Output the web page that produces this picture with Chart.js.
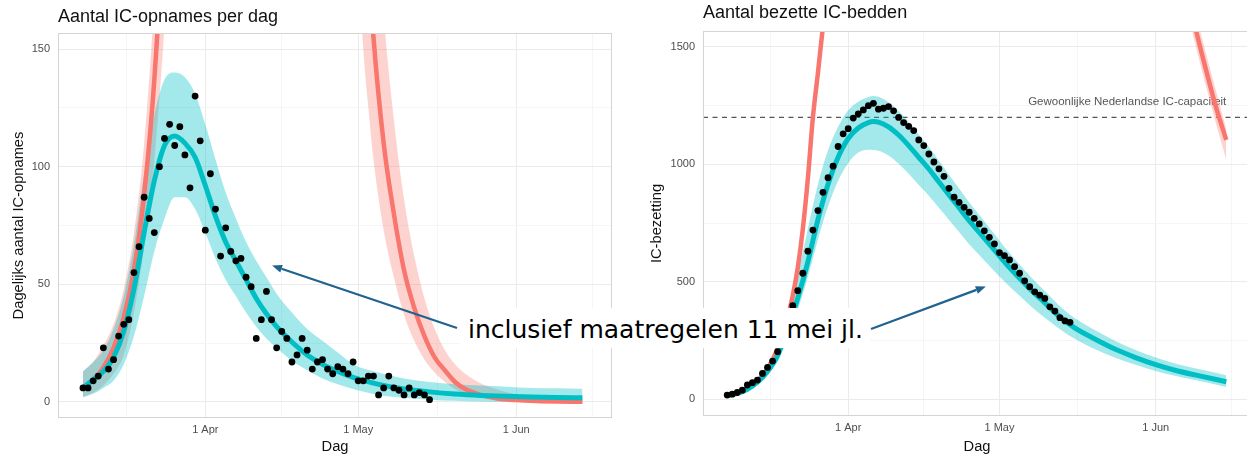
<!DOCTYPE html>
<html>
<head>
<meta charset="utf-8">
<script src="https://cdn.jsdelivr.net/npm/chart.js@4.4.1/dist/chart.umd.min.js"></script>
<style>
  body { margin: 0; width: 1247px; height: 457px; overflow: hidden; background: #fff; position: relative; }
  #opnames { position: absolute; left: 0; top: 0; }
  #bedden { position: absolute; left: 640px; top: 0; }
  #note {
    position: absolute; left: 460px; top: 308px; width: 410px; height: 40px;
    background: #fff; font-family: "DejaVu Sans", sans-serif; font-size: 25px;
    line-height: 44px; padding-left: 8px; box-sizing: border-box; white-space: nowrap; color: #000;
  }
  #arrows { position: absolute; left: 0; top: 0; }
</style>
</head>
<body>
<canvas id="opnames" width="620" height="457"></canvas>
<canvas id="bedden" width="615" height="457"></canvas>
<div id="note">inclusief maatregelen 11 mei jl.</div>
<svg id="arrows" width="1247" height="457"></svg>

<script>
// x = days since 1 March
const xTicks = [15.5, 31, 46, 61, 76.5, 92, 107];
const xLabels = ['', '1 Apr', '', '1 May', '', '1 Jun', ''];

// ---- left panel: IC admissions per day
const opnameDays = [7,8,9,10,11,12,13,14,15,16,17,18,19,20,21,22,23,24,25,26,27,28,29,30,31,32,33,34,35,36,
  37,38,39,40,41,42,43,44,45,46,47,48,49,50,51,52,53,54,55,56,57,58,59,60,61,62,63,64,65,66,67,68,69,70,71,72,73,74,75];
const opnames = [6,6,9,11,23,14,18,28,33,35,55,66,87,78,72,100,112,118,109,117,105,91,130,111,73,97,82,62,74,64,
  60,61,53,49,27,35,47,35,23,30,27,17,20,27,22,14,17,18,14,12,15,14,12,17,9,9,11,11,3,6,11,6,5,3,6,3,4,3,1];

const tealDaysL = [7,9,11,13,15,17,19,21,23,25,27,29,31,33,35,37,39,41,43,45,48,51,54,57,60,65,70,75,80,85,90,95,100,105];
const tealMidL = [6,9.5,13,19,30,48,72,94,109,113,110,104,92,79,68,60,52,44,37.5,32,25.5,20,16,13,10.5,7.5,5.5,4.3,3.4,2.8,2.4,2.1,1.9,1.8];
const tealHiL = [13,17,22,31,45,67,97,122,137,140,138,131,118,103,89,78,68,60,53,46,38,31,26,21,16,12.5,10,8.5,7.5,7,6.5,6,5.8,5.6];
const tealLoL = [2,3.5,6,9,16,28,45,64,78,87,87,82,72,61,52,45,38,32,27,23,17.5,13.5,10,7.5,5.5,3,1.8,1,0.5,0.2,0,0,0,0];

const redDaysL = [7,9,11,13,15,17,19,21,23,42,62,63,64,66,68,70,72,74,76,78,80,82,85,88,92,96,100,105];
const redMidL = [6,9.4,14.7,23,36,56,88,137,215,1500,225,188,155,110,80,56,40,28,19,13.5,8.5,5.5,3,1.6,0.8,0.4,0.2,0.1];
const redHiL = [13,17,24,33,48,72,110,172,270,2500,340,285,235,165,120,86,62,44,31,22,16,12,8,5.5,3.2,2,1.3,0.9];
const redLoL = [2,4,7,12,20,38,66,103,160,900,150,125,103,73,53,37,26,18,12.5,8.5,5.5,3.5,1.8,0.9,0.4,0.2,0.1,0.05];

// ---- right panel: occupied IC beds
const bezetDays = opnameDays;
const bezetting = [17,21,28,38,60,70,81,109,135,162,202,260,330,398,462,536,630,720,803,881,943,992,1076,1130,1152,1197,1215,1232,1250,1260,
  1235,1239,1246,1228,1200,1178,1162,1144,1104,1080,1044,1010,981,949,898,860,838,817,796,770,746,717,689,661,624,611,593,564,536,504,479,457,443,429,393,375,347,333,327];

const tealDaysR = [7,9,11,13,15,17,19,21,23,25,27,29,31,33,35,36,37,39,41,43,45,47,49,51,53,55,57,59,61,63,65,67,70,73,76,80,84,88,92,96,100,106];
const tealMidR = [15,24,42,72,118,185,300,430,585,765,915,1030,1110,1155,1178,1182,1180,1160,1125,1080,1030,980,925,870,815,760,710,660,610,560,515,470,410,350,302,255,212,177,147,122,102,74];
const tealHiR = [19,29,49,82,132,215,350,530,725,915,1060,1160,1230,1267,1287,1291,1288,1265,1227,1180,1127,1074,1015,956,897,838,784,730,676,622,573,525,460,396,344,293,247,209,177,151,130,102];
const tealLoR = [11,19,35,62,104,165,265,380,520,680,820,930,1005,1050,1062,1061,1058,1038,1003,960,912,866,815,763,712,660,614,568,522,480,440,400,346,298,256,212,176,146,120,98,80,52];

const redDaysR = [7,9,11,13,15,17,19,20,21,22,23,24,25,26,27,60,98,100,102,104,106];
const redMidR = [16,26,45,78,130,215,350,440,560,725,940,1200,1390,1590,1800,6000,1760,1570,1400,1240,1104];
const redHiR = [17,28,48,83,138,228,370,465,590,760,985,1250,1445,1650,1870,6500,1840,1640,1470,1310,1150];
const redLoR = [15,24,42,73,122,202,330,415,530,690,895,1150,1335,1530,1730,5500,1680,1500,1330,1170,1020];

const capacity = 1200;
const capacityText = 'Gewoonlijke Nederlandse IC-capaciteit';

const TEAL = '#00BFC4', RED = '#F8766D';
const TEAL_BAND = 'rgba(0,191,196,0.36)', RED_BAND = 'rgba(248,118,109,0.32)';

Chart.defaults.font.family = '"Liberation Sans", Arial, Helvetica, sans-serif';
Chart.defaults.color = '#4d4d4d';
Chart.defaults.animation = false;

function pts(days, vals) {
  return days.map((d, i) => ({x: d, y: vals[i]}));
}

function line(days, vals, color, width, order) {
  return {data: pts(days, vals), borderColor: color, borderWidth: width, pointRadius: 0,
    fill: false, cubicInterpolationMode: 'monotone', clip: 0, order: order};
}

function band(days, hi, lo, color, order) {
  return [
    {data: pts(days, hi), borderWidth: 0, pointRadius: 0, fill: '+1', backgroundColor: color,
      cubicInterpolationMode: 'monotone', clip: 0, order: order},
    {data: pts(days, lo), borderWidth: 0, pointRadius: 0, fill: false,
      cubicInterpolationMode: 'monotone', clip: 0, order: order}
  ];
}

function dots(days, vals) {
  return {data: pts(days, vals), showLine: false, pointRadius: 3.4, pointBorderWidth: 0,
    pointBackgroundColor: '#000', clip: 0, order: 0};
}

function gridColor(c) {
  return c.index % 2 === 1 ? '#ebebeb' : '#f5f5f5';
}

function xScale(min, max, h) {
  return {
    type: 'linear', min: min, max: max,
    afterBuildTicks: s => { s.ticks = xTicks.map(v => ({value: v})); },
    afterFit: s => { s.height = h; },
    ticks: {autoSkip: false, maxRotation: 0, padding: 5, font: {size: 11},
      callback: (v, i) => xLabels[i]},
    grid: {drawTicks: false, color: gridColor},
    border: {display: false},
    title: {display: true, text: 'Dag', color: '#111', font: {size: 14.7}, padding: {top: 0, bottom: 1}}
  };
}

function yScale(min, max, step, w, text, titlePad) {
  const ticks = [];
  for (let v = 0; v <= max; v += step / 2) ticks.push(v);
  return {
    min: min, max: max,
    afterBuildTicks: s => { s.ticks = ticks.map(v => ({value: v})); },
    afterFit: s => { s.width = w; },
    ticks: {autoSkip: false, padding: 8, font: {size: 11},
      callback: v => (v % step === 0 ? v : '')},
    grid: {drawTicks: false, color: c => (c.index % 2 === 0 ? '#ebebeb' : '#f5f5f5')},
    border: {display: false},
    title: {display: true, text: text, color: '#111', font: {size: 14.7}, padding: {top: titlePad, bottom: 0}}
  };
}

const panelBorder = {
  id: 'panelBorder',
  afterDatasetsDraw(chart) {
    const a = chart.chartArea, ctx = chart.ctx;
    ctx.save();
    ctx.strokeStyle = '#d4d4d4';
    ctx.lineWidth = 1;
    ctx.strokeRect(Math.round(a.left) + 0.5, Math.round(a.top) + 0.5,
      Math.round(a.right - a.left) - 1, Math.round(a.bottom - a.top) - 1);
    ctx.restore();
  }
};

const capacityLabel = {
  id: 'capacityLabel',
  beforeDatasetsDraw(chart) {
    const ctx = chart.ctx;
    const x = chart.scales.x.getPixelForValue(106);
    const y = chart.scales.y.getPixelForValue(capacity);
    ctx.save();
    ctx.font = '11.5px "Liberation Sans", Arial, sans-serif';
    ctx.fillStyle = '#555';
    ctx.textAlign = 'right';
    ctx.textBaseline = 'alphabetic';
    ctx.fillText(capacityText, x, y - 12);
    ctx.restore();
  }
};

function titleOpts(text, top, bottom) {
  return {display: true, text: text, align: 'start', fullSize: false, color: '#111',
    font: {size: 18, weight: 'normal'}, padding: {top: top, bottom: bottom}};
}

const leftChart = new Chart(document.getElementById('opnames'), {
  type: 'line',
  data: {datasets: [
    dots(opnameDays, opnames),
    line(tealDaysL, tealMidL, TEAL, 5, 1),
    line(redDaysL, redMidL, RED, 4.5, 2),
    ...band(tealDaysL, tealHiL, tealLoL, TEAL_BAND, 3),
    ...band(redDaysL, redHiL, redLoL, RED_BAND, 4)
  ]},
  options: {
    responsive: false,
    layout: {padding: {left: 0, right: 8, top: 0, bottom: 0}},
    scales: {
      x: xScale(2.1, 110.8, 39),
      y: yScale(-6.8, 156.8, 50, 58, 'Dagelijks aantal IC-opnames', 10)
    },
    plugins: {
      legend: {display: false},
      tooltip: {enabled: false},
      title: titleOpts('Aantal IC-opnames per dag', 6.7, 4.7)
    }
  },
  plugins: [panelBorder]
});

const rightChart = new Chart(document.getElementById('bedden'), {
  type: 'line',
  data: {datasets: [
    dots(bezetDays, bezetting),
    line(tealDaysR, tealMidR, TEAL, 5, 1),
    line(redDaysR, redMidR, RED, 4.5, 2),
    ...band(tealDaysR, tealHiR, tealLoR, TEAL_BAND, 3),
    ...band(redDaysR, redHiR, redLoR, RED_BAND, 4),
    {data: [{x: 2.2, y: capacity}, {x: 110.9, y: capacity}], borderColor: '#555', borderWidth: 1.1,
      borderDash: [5, 4.5], pointRadius: 0, fill: false, clip: 0, order: 5}
  ]},
  options: {
    responsive: false,
    layout: {padding: {left: 0, right: 3, top: 0, bottom: 0}},
    scales: {
      x: xScale(2.2, 110.9, 41),
      y: yScale(-72, 1568, 500, 63, 'IC-bezetting', 8.3)
    },
    plugins: {
      legend: {display: false},
      tooltip: {enabled: false},
      title: titleOpts('Aantal bezette IC-bedden', 2.7, 6.7)
    }
  },
  plugins: [panelBorder, capacityLabel]
});

// arrows from the note to both model curves
const ARROW = '#1f6390';
const svg = document.getElementById('arrows');
function arrow(x1, y1, x2, y2) {
  const ns = 'http://www.w3.org/2000/svg';
  const ang = Math.atan2(y2 - y1, x2 - x1), len = 10, half = 4;
  const bx = x2 - len * Math.cos(ang), by = y2 - len * Math.sin(ang);
  const l = document.createElementNS(ns, 'line');
  l.setAttribute('x1', x1); l.setAttribute('y1', y1);
  l.setAttribute('x2', bx); l.setAttribute('y2', by);
  l.setAttribute('stroke', ARROW); l.setAttribute('stroke-width', 2.2);
  svg.appendChild(l);
  const p = document.createElementNS(ns, 'polygon');
  const px = -Math.sin(ang) * half, py = Math.cos(ang) * half;
  p.setAttribute('points', `${x2},${y2} ${bx + px},${by + py} ${bx - px},${by - py}`);
  p.setAttribute('fill', ARROW);
  svg.appendChild(p);
}
const lx = leftChart.scales.x.getPixelForValue(44.1), ly = leftChart.scales.y.getPixelForValue(58);
arrow(457, 328, lx, ly);
const rx = 640 + rightChart.scales.x.getPixelForValue(58.3), ry = rightChart.scales.y.getPixelForValue(480);
arrow(871, 329, rx, ry);
</script>
</body>
</html>
